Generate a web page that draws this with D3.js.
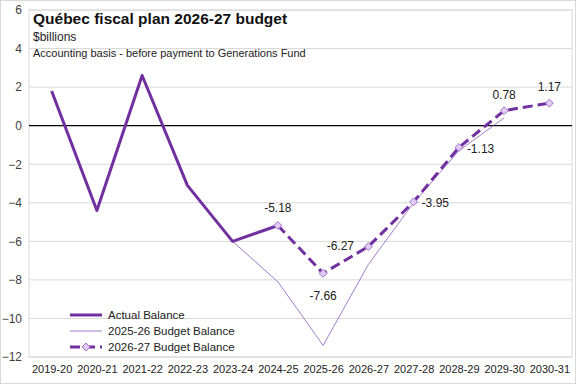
<!DOCTYPE html>
<html>
<head>
<meta charset="utf-8">
<script src="https://cdn.jsdelivr.net/npm/d3@7"></script>
<style>
  body { margin: 0; background: #fff; }
  svg { font-family: "Liberation Sans", Arial, sans-serif; }
</style>
</head>
<body>
<div></div>
<script>
let years = ["2019-20", "2020-21", "2021-22", "2022-23", "2023-24", "2024-25", "2025-26", "2026-27", "2027-28", "2028-29", "2029-30", "2030-31"]

// null = no value for that year
let actual = [1.8, -4.4, 2.6, -3.1, -6.0, -5.18, null, null, null, null, null, null]
let budget2526 = [null, null, null, null, -6.0, -8.1, -11.4, -7.2, -4.0, -1.3, 0.4, null]
let budget2627 = [null, null, null, null, null, -5.18, -7.66, -6.27, -3.95, -1.13, 0.78, 1.17]
let yTicks = [6, 4, 2, 0, -2, -4, -6, -8, -10, -12]

let w = 576, h = 384
let plotL = 29, plotR = 572, plotT = 10, plotB = 357
let purple = "#7030a0"

let svg = d3.select("div").append("svg").attr("width", w).attr("height", h)

svg.append("rect").attr("x", 0.5).attr("y", 0.5).attr("width", w - 1).attr("height", h - 1)
    .attr("fill", "#fff").attr("stroke", "#d9d9d9")

let xScale = d3.scalePoint().domain(years).range([plotL, plotR]).padding(0.5)
let yScale = d3.scaleLinear().domain([-12, 6]).range([plotB, plotT])

// gridlines
svg.append("g").selectAll("line").data(yTicks.filter(d => d != 0)).enter().append("line")
    .attr("x1", plotL).attr("x2", plotR)
    .attr("y1", d => yScale(d)).attr("y2", d => yScale(d))
    .attr("stroke", "#d9d9d9").attr("stroke-width", 1)

svg.append("rect").attr("x", plotL).attr("y", plotT).attr("width", plotR - plotL).attr("height", plotB - plotT)
    .attr("fill", "none").attr("stroke", "#d9d9d9")

svg.append("line").attr("x1", plotL).attr("x2", plotR)
    .attr("y1", yScale(0)).attr("y2", yScale(0)).attr("stroke", "#000").attr("stroke-width", 1.2)

// y labels
let yAxis = d3.axisLeft(yScale).tickValues(yTicks).tickSize(0).tickPadding(7)
let gy = svg.append("g").attr("transform", "translate(" + plotL + ",0)").call(yAxis)
gy.select(".domain").remove()
gy.selectAll("text").attr("font-size", 12).attr("fill", "#404040").attr("font-family", "inherit")

// x labels
let xAxis = d3.axisBottom(xScale).tickSize(0).tickPadding(8)
let gx = svg.append("g").attr("transform", "translate(0," + plotB + ")").call(xAxis)
gx.select(".domain").remove()
gx.selectAll("text").attr("font-size", 11).attr("fill", "#222").attr("font-family", "inherit")

// title block
svg.append("text").attr("x", 33).attr("y", 24).attr("font-size", 15.5).attr("font-weight", "bold")
    .attr("fill", "#111").text("Québec fiscal plan 2026-27 budget")
svg.append("text").attr("x", 33).attr("y", 41).attr("font-size", 12).attr("fill", "#222").text("$billions")
svg.append("text").attr("x", 33).attr("y", 57).attr("font-size", 11).attr("fill", "#222")
    .text("Accounting basis - before payment to Generations Fund")

let line = d3.line()
    .defined(d => d[1] != null)
    .x(d => xScale(d[0]))
    .y(d => yScale(d[1]))

let pairs = arr => years.map((y, i) => [y, arr[i]])

svg.append("path").attr("d", line(pairs(budget2526))).attr("fill", "none")
    .attr("stroke", "#8a5cc0").attr("stroke-width", 0.8)

svg.append("path").attr("d", line(pairs(actual))).attr("fill", "none")
    .attr("stroke", purple).attr("stroke-width", 3).attr("stroke-linejoin", "round")

svg.append("path").attr("d", line(pairs(budget2627))).attr("fill", "none")
    .attr("stroke", purple).attr("stroke-width", 3).attr("stroke-dasharray", "10,5")

let diamond = d3.symbol().type(d3.symbolDiamond2).size(40)
let pts = pairs(budget2627).filter(d => d[1] != null)

svg.append("g").selectAll("path").data(pts).enter().append("path")
    .attr("d", diamond)
    .attr("transform", d => "translate(" + xScale(d[0]) + "," + yScale(d[1]) + ")")
    .attr("fill", "#e0ccf5").attr("stroke", "#a070d0").attr("stroke-width", 1)

// data label placement: [dx, dy, anchor]
let labelPos = {
    "2024-25": [0, -18, "middle"],
    "2025-26": [0, 22, "middle"],
    "2026-27": [-28, -1, "middle"],
    "2027-28": [8, 1, "start"],
    "2028-29": [8, 1, "start"],
    "2029-30": [0, -16, "middle"],
    "2030-31": [0, -16, "middle"]
}

svg.append("g").selectAll("text").data(pts).enter().append("text")
    .attr("x", d => xScale(d[0]) + labelPos[d[0]][0])
    .attr("y", d => yScale(d[1]) + labelPos[d[0]][1])
    .attr("dy", "0.35em")
    .attr("text-anchor", d => labelPos[d[0]][2])
    .attr("font-size", 12).attr("fill", "#222")
    .text(d => d[1].toFixed(2))

// legend
let legend = [
    { name: "Actual Balance", width: 3, dash: null, marker: false, color: purple },
    { name: "2025-26 Budget Balance", width: 0.8, dash: null, marker: false, color: "#8a5cc0" },
    { name: "2026-27 Budget Balance", width: 3, dash: "10,5", marker: true, color: purple }
]
let lg = svg.append("g").selectAll("g").data(legend).enter().append("g")
    .attr("transform", (d, i) => "translate(70," + (315 + i * 16) + ")")
lg.append("line").attr("x1", 0).attr("x2", 32).attr("y1", 0).attr("y2", 0)
    .attr("stroke", d => d.color).attr("stroke-width", d => d.width)
    .attr("stroke-dasharray", d => d.dash)
lg.filter(d => d.marker).append("path").attr("d", diamond)
    .attr("transform", "translate(16,0)")
    .attr("fill", "#e0ccf5").attr("stroke", "#a070d0")
lg.append("text").attr("x", 38).attr("dy", "0.35em").attr("font-size", 11.5).attr("fill", "#222")
    .text(d => d.name)
</script>
</body>
</html>
